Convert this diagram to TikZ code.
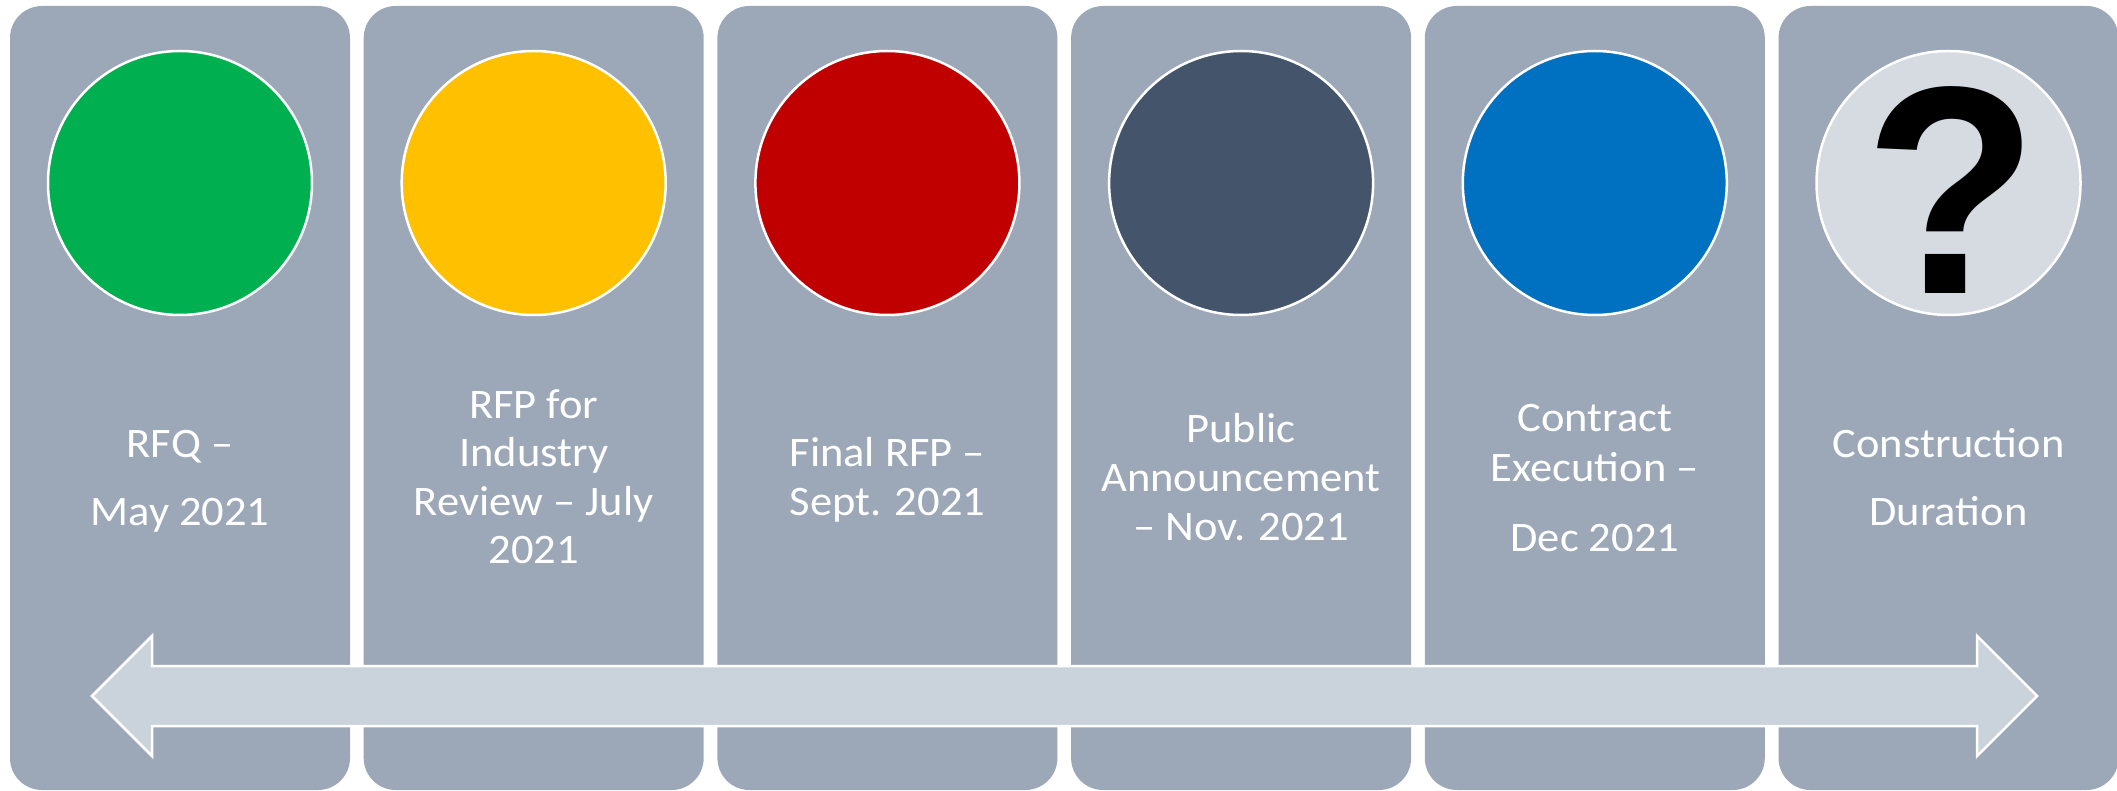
\documentclass[tikz,border=0pt]{standalone}
\usepackage{fontspec}
\newfontfamily\lblfont[FakeStretch=1.06]{Carlito}
\newfontfamily\qfont{Liberation Sans}
\definecolor{panelc}{HTML}{9CA8B7}
\definecolor{arrowc}{HTML}{CAD2DB}
\definecolor{qc}{HTML}{D6DAE1}
\definecolor{c1}{HTML}{00B050}
\definecolor{c2}{HTML}{FFC000}
\definecolor{c3}{HTML}{C00000}
\definecolor{c4}{HTML}{44546A}
\definecolor{c5}{HTML}{0070C0}
\begin{document}
\begin{tikzpicture}[x=1pt,y=-1pt,
  panelbox/.style={rectangle, fill=panelc, rounded corners=32pt, minimum width=340pt, minimum height=784pt, inner sep=0pt, draw=none},
  dotc/.style={circle, draw=white, line width=2.5pt, minimum size=264pt, inner sep=0pt},
  lbl/.style={text=white, font=\lblfont\fontsize{42}{48}\selectfont, anchor=base, inner sep=0pt}]
\useasboundingbox (0,0) rectangle (2117,791);
% panels
\node[panelbox] (p1) at (180,398) {};
\node[panelbox] (p2) at (533.7,398) {};
\node[panelbox] (p3) at (887.4,398) {};
\node[panelbox] (p4) at (1241.1,398) {};
\node[panelbox] (p5) at (1594.8,398) {};
\node[panelbox] (p6) at (1948.5,398) {};
% circles
\node[dotc, fill=c1] (d1) at (180,183) {};
\node[dotc, fill=c2] (d2) at (533.7,183) {};
\node[dotc, fill=c3] (d3) at (887.4,183) {};
\node[dotc, fill=c4] (d4) at (1241.1,183) {};
\node[dotc, fill=c5] (d5) at (1594.8,183) {};
\node[dotc, fill=qc] (d6) at (1948.5,183) {};
\node[anchor=base, inner sep=0pt, yscale=1.04, font=\qfont\bfseries\fontsize{285}{285}\selectfont] (qm) at (1952,294) {?};
% labels
\node[lbl] (t1a) at (180,457) {RFQ –};
\node[lbl] (t1b) at (180,525) {May 2021};
\node[lbl] (t2a) at (533.7,418) {RFP for};
\node[lbl] (t2b) at (533.7,466.5) {Industry};
\node[lbl] (t2c) at (533.7,515) {Review – July};
\node[lbl] (t2d) at (533.7,563.5) {2021};
\node[lbl] (t3a) at (887.4,466.7) {Final RFP –};
\node[lbl] (t3b) at (887.4,515) {Sept. 2021};
\node[lbl] (t4a) at (1241.1,442) {Public};
\node[lbl] (t4b) at (1241.1,491) {Announcement};
\node[lbl] (t4c) at (1241.1,540) {– Nov. 2021};
\node[lbl] (t5a) at (1594.8,431.7) {Contract};
\node[lbl] (t5b) at (1594.8,481) {Execution –};
\node[lbl] (t5c) at (1594.8,551) {Dec 2021};
\node[lbl] (t6a) at (1948.5,457) {Construction};
\node[lbl] (t6b) at (1948.5,525) {Duration};
% timeline double arrow
\filldraw[fill=arrowc, draw=white, line width=2.5pt, line join=miter]
  (92,696) -- (152,636) -- (152,666) -- (1977,666) -- (1977,636) -- (2037,696)
  -- (1977,756) -- (1977,726) -- (152,726) -- (152,756) -- cycle;
\end{tikzpicture}
\end{document}
